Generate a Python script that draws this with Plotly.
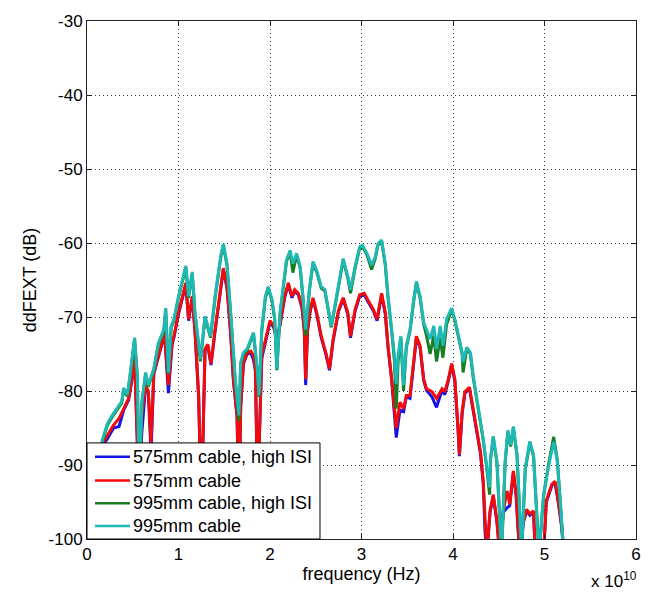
import plotly.graph_objects as go

# Frequency grids (GHz) and ddFEXT levels (dB)
f_575 = [1.0, 1.3, 1.6, 2.2, 2.9, 3.5, 4.0, 4.55, 4.9, 5.2, 5.5, 5.65, 6.0, 6.4, 6.7, 7.0,
         7.3, 7.8, 8.2, 8.45, 8.75, 8.9, 9.3, 9.5, 10.0, 10.6, 10.8, 11.1, 11.5, 11.8,
         12.2, 12.5, 12.9, 13.2, 13.55, 14.0, 14.6, 14.9, 15.3, 15.7, 16.0, 16.4, 16.6,
         16.8, 17.1, 17.5, 17.9, 18.2, 18.4, 18.65, 19.1, 19.5, 20.0, 20.4, 20.8, 21.3,
         21.6, 22.0, 22.4, 22.7, 23.1, 23.5, 23.75, 23.9, 24.1, 24.4, 24.7, 25.1, 25.6,
         26.1, 26.5, 26.9, 27.5, 28.0, 28.5, 28.8, 29.3, 29.8, 30.3, 30.7, 31.3, 31.7,
         32.2, 32.6, 32.9, 33.3, 33.55, 33.8, 34.2, 34.6, 34.9, 35.3, 35.7, 36.0, 36.4,
         36.8, 37.1, 37.7, 38.2, 38.8, 39.1, 39.5, 39.85, 40.2, 40.55, 40.7, 41.0, 41.3,
         41.8, 42.2, 42.6, 43.0, 43.3, 43.5, 43.7, 44.05, 44.4, 44.8, 45.1, 45.5, 45.9,
         46.2, 46.6, 46.9, 47.1, 47.3, 47.7, 48.05, 48.4, 48.8, 49.0, 49.9, 50.2, 50.8,
         51.15, 51.5, 51.9, 52.1]

db_575_cable = [-96, -90, -87.3, -86, -84.6, -83.7, -82.4, -81, -78.4, -75.2, -87, -93, -83.3, -79.2, -80, -87,
                -77.5, -75.2, -73.5, -71.7, -77.5, -79.2, -73.5, -72.6, -69.4, -66.3, -65.4, -70.3, -67.2, -71.7,
                -80.6, -96, -74.3, -73.7, -76.3, -71.7, -65.9, -63.4, -65.9, -72.1, -78.4, -83.3, -96,
                -81.9, -76.1, -74.8, -74.6, -75.2, -77, -94, -75.2, -73, -70.5, -71.2, -73, -69.4,
                -67.2, -65.4, -67.2, -66.3, -66.8, -68.6, -71.7, -78.4, -71.7, -69, -67.4, -69.4, -72.6,
                -74.8, -77, -73, -69, -67.4, -69.4, -72.6, -69, -67, -66.8, -67.7, -69, -70.3,
                -66.8, -69.4, -73.9, -78.4, -81.5, -85, -81.5, -82.4, -80.6, -80.6, -76.1, -72.6, -73.9,
                -78.4, -79.7, -80.1, -81, -79.7, -80.1, -78.4, -76.3, -78.4, -85, -88.6, -82.8, -80.1,
                -79.5, -82.4, -85, -88.2, -92.2, -98.8, -102, -96.2, -94, -97.5, -102, -96.2, -93.5,
                -95.3, -90.8, -94, -98.4, -102, -97.5, -96, -96.6, -96.2, -102, -102, -94.8, -92.6,
                -92.2, -94.8, -98.4, -102]

db_575_high_isi = [-96, -90, -87.5, -86.5, -85, -84.8, -82.6, -81.2, -78.6, -75.4, -87, -93, -85.5, -79.4, -80.2, -88.5,
                   -77.7, -75.4, -73.6, -71.9, -77.7, -80.3, -73.7, -72.8, -69.6, -66.5, -65.6, -70.5, -67.4, -71.9,
                   -80.8, -96, -74.5, -73.9, -76.5, -71.9, -66.1, -63.6, -66.1, -72.3, -78.6, -83.5, -96,
                   -82.1, -76.3, -75, -74.8, -75.8, -77.2, -94, -75.6, -73.2, -70.7, -71.4, -73.2, -69.6,
                   -67.4, -65.6, -67.4, -66.5, -67, -68.8, -71.9, -79.2, -71.9, -69.2, -67.6, -69.6, -72.8,
                   -75, -77.2, -73.2, -69.2, -67.6, -69.6, -72.8, -69.2, -67.2, -67, -67.9, -69.2, -70.5,
                   -67, -69.6, -74.1, -78.6, -82.2, -86.3, -82.6, -82.8, -80.8, -81, -76.3, -72.8, -74.1,
                   -78.6, -79.9, -80.8, -82.2, -79.9, -80.5, -78.6, -76.5, -78.6, -85.2, -88.8, -83, -80.3,
                   -79.7, -82.6, -85.2, -88.4, -92.4, -99, -102, -96.4, -94.2, -97.7, -102, -96.4, -95.8,
                   -95.5, -91, -94.2, -98.6, -102, -97.7, -96.2, -96.8, -96.4, -102, -102, -95, -92.8,
                   -92.4, -95, -98.6, -102]

f_995 = [1.0, 1.3, 1.64, 2.2, 2.7, 3.3, 3.8, 4.0, 4.4, 4.7, 5.2, 5.5, 5.7, 6.0, 6.4, 6.7,
         7.3, 7.8, 8.4, 8.6, 8.75, 8.9, 9.2, 9.5, 10.0, 10.6, 10.8, 11.1, 11.5, 11.8,
         12.4, 12.9, 13.5, 14.0, 14.6, 14.9, 15.3, 15.7, 16.0, 16.2, 16.6, 16.8, 17.1,
         17.5, 17.9, 18.2, 18.6, 18.8, 19.1, 19.5, 19.8, 20.2, 20.5, 20.75, 21.1, 21.5,
         21.8, 22.2, 22.5, 22.9, 23.3, 23.6, 23.9, 24.3, 24.7, 25.1, 25.6, 26.0, 26.4,
         26.7, 27.2, 27.7, 28.0, 28.5, 28.8, 29.3, 29.8, 30.1, 30.6, 31.1, 31.5, 31.8,
         32.2, 32.6, 32.9, 33.3, 33.6, 33.8, 34.0, 34.3, 34.6, 34.9, 35.3, 35.7, 36.0,
         36.4, 36.8, 37.1, 37.5, 37.9, 38.2, 38.6, 38.9, 39.3, 39.85, 40.2, 40.6, 41.0,
         41.1, 41.5, 41.9, 42.2, 42.6, 42.95, 43.3, 43.7, 44.0, 44.1, 44.4, 44.8, 45.1,
         45.3, 45.7, 46.0, 46.3, 46.6, 47.0, 47.3, 47.5, 47.9, 48.4, 48.8, 49.2, 49.4,
         49.9, 50.4, 51.0, 51.4, 51.8, 52.1]

db_995_cable = [-95, -89, -86.8, -84.5, -83.4, -82.3, -81.4, -79.6, -80.5, -77.9, -72.8, -77.9, -92, -81.5, -77.5, -79.2,
                -77, -73.5, -71.7, -68.8, -73, -77.5, -71.2, -70.3, -67.2, -64.1, -63.1, -67.2, -63.9, -69.4,
                -75.7, -69.9, -72.6, -67.2, -61.9, -60.1, -62.8, -69.4, -74.8, -78.4, -83.3, -76.1, -74.8,
                -74.3, -73, -72.1, -77, -80.6, -71.7, -67.2, -65.9, -67.5, -70, -77, -69.4, -65,
                -62.3, -61, -62.8, -61.4, -63.2, -67.2, -71.7, -66.3, -62.5, -63.7, -65.9, -66.3, -69,
                -71.2, -67.7, -64.1, -62.1, -64.5, -66.3, -63.2, -60.5, -60.3, -61.4, -63, -61.9, -60.1,
                -59.6, -62.8, -67.2, -71.7, -75.2, -79, -75.2, -72.6, -79.2, -73.9, -71.7, -67.7, -65.2,
                -67.2, -70.8, -71.7, -73, -71.2, -74.3, -71.2, -73.9, -70.3, -68.8, -70.3, -72.6, -74.8,
                -76.1, -74.1, -74.8, -77.9, -81, -83.7, -86.4, -90.4, -93, -89.1, -86.1, -89.5, -96.2,
                -102, -89.5, -85.3, -87.3, -84.8, -88.6, -96.2, -102, -90.4, -86.8, -88.6, -96.2, -102,
                -94, -90.4, -86.9, -89.5, -96.2, -102]

db_995_high_isi = [-95, -89, -87, -84.7, -83.6, -82.5, -81.6, -79.8, -80.7, -78.1, -73, -78.1, -93, -81.7, -77.7, -79.4,
                   -77.2, -73.7, -71.9, -69, -73.2, -77.7, -71.4, -70.5, -67.4, -64.3, -63.3, -67.4, -64.1, -69.6,
                   -76, -70.1, -72.8, -67.4, -62.1, -60.3, -63, -69.6, -75, -78.6, -84, -76.3, -75,
                   -74.5, -73.2, -72.3, -77.2, -80.8, -71.9, -67.4, -66.1, -67.7, -70.2, -77.2, -69.6, -65.2,
                   -62.5, -61.2, -64, -61.6, -63.4, -67.4, -72.5, -66.5, -62.7, -63.9, -66.1, -66.5, -69.2,
                   -71.4, -67.9, -64.3, -62.3, -64.7, -66.8, -63.4, -60.7, -60.5, -61.6, -63.6, -62.1, -60.3,
                   -59.8, -63, -67.4, -72, -76, -82.4, -76, -72.8, -80, -74.1, -71.9, -67.9, -65.4,
                   -67.4, -71, -72.5, -75, -72.5, -76, -72.8, -75.5, -71, -69, -70.5, -72.8, -75,
                   -77.5, -74.3, -75, -78.1, -81.2, -83.9, -86.6, -90.6, -94, -89.3, -86.3, -89.7, -96.4,
                   -102, -89.7, -85.5, -87.5, -85, -88.8, -98, -102, -90.6, -87, -88.8, -96.4, -102,
                   -94.2, -90.2, -86.2, -89.3, -96.4, -102]

x_ticks = [0, 1, 2, 3, 4, 5, 6]
y_ticks = [-100, -90, -80, -70, -60, -50, -40, -30]

series_names = ["575mm cable, high ISI", "575mm cable", "995mm cable, high ISI", "995mm cable"]
series_freqs = [f_575, f_575, f_995, f_995]
series_levels = [db_575_high_isi, db_575_cable, db_995_high_isi, db_995_cable]
series_colors = ["rgb(20,20,230)", "rgb(245,10,10)", "rgb(25,125,35)", "rgb(30,185,180)"]

FONT = "Arial, Liberation Sans, sans-serif"

fig = go.Figure()
for name, f, db, color in zip(series_names, series_freqs, series_levels, series_colors):
    fig.add_trace(go.Scatter(
        x=[v * 1e9 for v in f], y=db, mode="lines", name=name,
        line=dict(color=color, width=3), showlegend=False,
    ))

axis_common = dict(
    showline=True, linecolor="#222", linewidth=1, mirror="ticks",
    ticks="inside", ticklen=5, tickcolor="#222",
    showgrid=True, gridcolor="#444", griddash="1px,3px", gridwidth=1,
    zeroline=False, tickfont=dict(size=17, color="black", family=FONT),
)

fig.update_xaxes(
    range=[0, 6e10], tickvals=[t * 1e10 for t in x_ticks], ticktext=[str(t) for t in x_ticks],
    title=dict(text="frequency (Hz)", font=dict(size=18, color="black", family=FONT), standoff=3),
    **axis_common,
)
fig.update_yaxes(
    range=[-100, -30], tickvals=y_ticks, ticktext=[str(t) for t in y_ticks],
    title=dict(text="ddFEXT (dB)", font=dict(size=18, color="black", family=FONT), standoff=7),
    **axis_common,
)

# exponent note under the right end of the frequency axis
fig.add_annotation(
    text="x 10<sup>10</sup>", xref="paper", yref="paper", x=1.005, y=-0.08,
    xanchor="right", yanchor="middle", showarrow=False,
    font=dict(size=17, color="black", family=FONT),
)

# legend box in the lower-left corner of the axes (opaque, boxed)
box_w, box_h = 0.4244, 0.1855
fig.add_shape(type="rect", xref="paper", yref="paper", x0=0, y0=0, x1=box_w, y1=box_h,
              fillcolor="white", line=dict(color="black", width=1), layer="above")
row_y = [0.1587, 0.1128, 0.0688, 0.0249]
for name, color, yy in zip(series_names, series_colors, row_y):
    fig.add_shape(type="line", xref="paper", yref="paper", x0=0.0146, x1=0.0783, y0=yy, y1=yy,
                  line=dict(color=color, width=2.5), layer="above")
    fig.add_annotation(text=name, xref="paper", yref="paper", x=0.0810, y=yy,
                       xanchor="left", yanchor="middle", showarrow=False,
                       font=dict(size=18, color="black", family=FONT))

fig.update_layout(
    width=661, height=592,
    margin=dict(l=87, r=25, t=18, b=51),
    plot_bgcolor="white", paper_bgcolor="white",
    font=dict(family=FONT, color="black"),
    showlegend=False,
)

fig.write_html("out.html")
